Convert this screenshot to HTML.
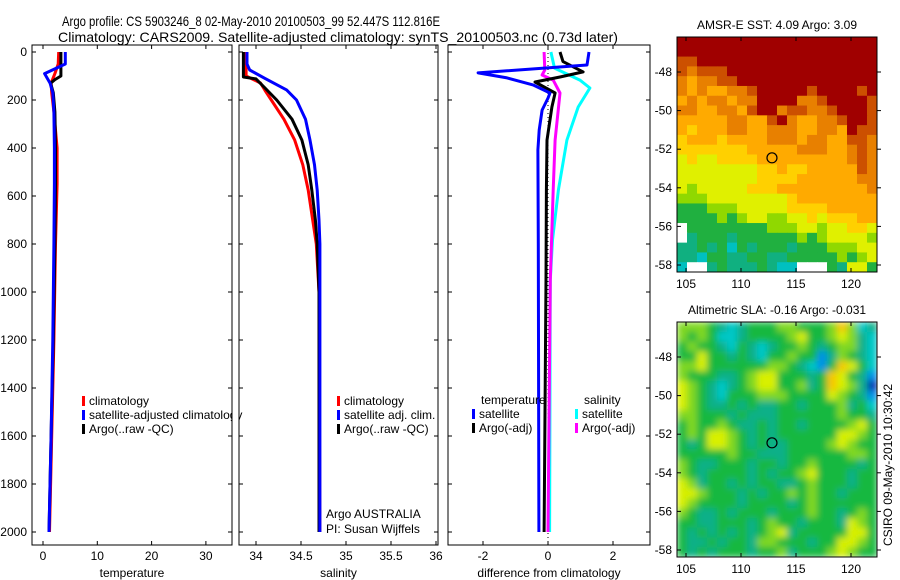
<!DOCTYPE html>
<html><head><meta charset="utf-8"><style>
body{margin:0;background:#fff;}
svg{display:block;font-family:"Liberation Sans",sans-serif;}
</style></head><body>
<svg id="fig" width="900" height="580" viewBox="0 0 900 580">
<defs><filter id="blur" x="0" y="0" width="1" height="1"><feGaussianBlur stdDeviation="3.5" edgeMode="duplicate"/></filter></defs>
</svg>
<script>
// ---------- data ----------
const depthTicks=[0,200,400,600,800,1000,1200,1400,1600,1800,2000];
const tempTicks=[0,10,20,30];
const salTicks=[34,34.5,35,35.5,36];
const diffTicks=[-2,0,2];
const lonTicks=[105,110,115,120];
const latTicks=[-48,-50,-52,-54,-56,-58];

const tClimD=[0,50,90,130,170,250,400,550,800,1200,1600,2000];
const tClimV=[2.9,2.8,2.2,1.5,1.6,2.0,2.6,2.6,2.3,2.0,1.6,1.2];
const tArgoD=[0,50,100,115,130,170,250,400,550,800,1200,1600,2000];
const tArgoV=[3.3,3.3,3.3,2.2,1.4,1.9,2.2,2.3,2.3,2.2,1.9,1.5,1.1];
const tSatD=[0,50,90,130,170,250,400,550,800,1200,1600,2000];
const tSatV=[4.1,4.1,0.3,1.3,1.8,2.0,2.1,2.1,2.0,1.8,1.5,1.1];

const sClimD=[0,100,129,160,200,280,367,470,575,700,800,1000,2000];
const sClimV=[33.89,33.89,34.05,34.10,34.17,34.31,34.43,34.52,34.58,34.63,34.67,34.70,34.71];
const sArgoD=[0,104,112,150,200,280,367,470,575,700,800,1000,2000];
const sArgoV=[33.86,33.86,34.0,34.1,34.23,34.40,34.51,34.58,34.62,34.66,34.68,34.70,34.70];
const sSatD=[0,50,75,110,158,200,280,367,470,575,700,800,2000];
const sSatV=[33.9,33.9,33.93,34.1,34.34,34.45,34.55,34.6,34.65,34.68,34.70,34.71,34.71];

const dSatTD=[0,54,87,108,137,171,192,242,325,408,800,2000];
const dSatTV=[1.26,1.2,-2.15,-1.26,-0.46,0.06,0.0,-0.18,-0.27,-0.31,-0.3,-0.28];
const dSatSD=[0,67,117,150,229,367,575,783,950,2000];
const dSatSV=[0.09,0.2,0.98,1.29,0.93,0.58,0.32,0.14,0.07,0.05];
const dArgoTD=[0,40,83,104,125,171,229,367,575,950,2000];
const dArgoTV=[0.37,0.46,1.08,0.37,-0.4,0.22,0.12,-0.03,-0.05,-0.06,-0.12];
const dArgoSD=[0,75,96,117,171,367,575,950,2000];
const dArgoSV=[-0.12,-0.1,-0.18,0.16,0.37,0.22,0.16,0.07,0.0];

const sstRows=[
"jjjjjjjjjjjjjjjjjjjj","jjjjjjjjjjjjjjjjjjjj","iijjjjjjjjjjjjjjjjjj","ihiiijjjjjjjjjjjjjjj",
"hghhiijjjjjjjjjjjjjj","hghgghhijjjjjijjjjij","ghghhghhjjjjhhijjjji","hhgghhgijjhiihhijjji",
"ggggghhggijhgghhijji","gfggghhgghhhgghhgjii","fgggfgggghhhghhggiih","fffffffggggghhhgghih",
"efeeffffggggggggghih","eeeeeeeeffgffgggggih","eeeeeeeeffffgggggghh","edeeeeefffgggggggggh",
"dddeeeeeeeefgggggggg","cccdddeeeeeffffggggg","ccccdcdeeddeefefffgg","wccccccccdddeedeeffe",
"wbcccbccccccdcdeeeed","bbcbcacbcccbcccdddee","bbaccbbccbbcccccdcde","awwbcbbbcbaawwwcbeec"];
const slaRows=[
"lllgtctgggllggglolct","lglgcctgggglygglyltc","glggtcgtctgglgtglltc","ggyggtgtcgglggbtlgtc",
"llyggggggllgtcbgoygc","lgggttglyygggtgoygtb","ylgtctglyyggltgoylta","ylgtcggglllggggylgtb",
"ylgttgtgttggtgggltgc","llgggtgtttgggggglggt","glgglgttgtggtgggglyg","glgyylgtgtggggggyylg",
"gtgyylgtgttgggglylgg","ggggglggtttggggggllg","lgttgggtggtgglggggtg","lgtggggtgtgglygggtgg",
"yltggtgtggttglgggtgg","yylgggtgtgglglggtggg","ylggggtggggtglgggggg","lgttgtgggtggglggtglg",
"ggttgggtglggtgggtylg","gtgtgtgtglytgggggyyg","gttgtggtllgggtggyylg","gtgtgggtggltggglylgg"];
const argoLon=112.816, argoLat=-52.447;

// ---------- helpers ----------
const NS="http://www.w3.org/2000/svg";
const svg=document.getElementById('fig');
function mk(tag,attrs,parent){const e=document.createElementNS(NS,tag);for(const k in attrs)e.setAttribute(k,attrs[k]);(parent||svg).appendChild(e);return e;}
function txt(x,y,s,anchor,size){const t=mk('text',{x:x,y:y,'font-size':size||12,'text-anchor':anchor||'start',fill:'#000'});t.textContent=s;return t;}
const yD=d=>52+d*0.24;
const xT=v=>43+v*5.43;
const xS=v=>256+(v-34)*90;
const xDf=v=>548+v*32.5;

// titles
let t=txt(62,26,'Argo profile: CS 5903246_8 02-May-2010 20100503_99 52.447S 112.816E','start',14);
t.setAttribute('textLength','378');
t.setAttribute('lengthAdjust','spacingAndGlyphs');


t=txt(58,42,'Climatology: CARS2009. Satellite-adjusted climatology: synTS_20100503.nc (0.73d later)','start',14);
t.setAttribute('textLength','560');
t.setAttribute('lengthAdjust','spacingAndGlyphs');



function panel(name,x0,x1,xf,xticks,xlabel,yLabels){
  const g=mk('g',{});
  
  
  const y0=45,y1=545;
  mk('rect',{x:x0,y:y0,width:x1-x0,height:y1-y0,fill:'none',stroke:'#000','stroke-width':1},g);
  depthTicks.forEach(d=>{
    mk('line',{x1:x0,x2:x0+4,y1:yD(d),y2:yD(d),stroke:'#000'},g);
    mk('line',{x1:x1-4,x2:x1,y1:yD(d),y2:yD(d),stroke:'#000'},g);
    if(yLabels){const l=txt(x0-5,yD(d)+4,String(d),'end');g.appendChild(l);
      
      }
  });
  xticks.forEach(v=>{
    mk('line',{x1:xf(v),x2:xf(v),y1:y0,y2:y0+4,stroke:'#000'},g);
    mk('line',{x1:xf(v),x2:xf(v),y1:y1-4,y2:y1,stroke:'#000'},g);
    const l=txt(xf(v),560,String(v),'middle');g.appendChild(l);
    
    
  });
  const xl=txt((x0+x1)/2,577,xlabel,'middle');g.appendChild(xl);
  
  
  const cp=mk('clipPath',{id:'cp'+name},g);
  mk('rect',{x:x0,y:y0,width:x1-x0,height:y1-y0},cp);
  const inner=mk('g',{'clip-path':'url(#cp'+name+')'},g);
  return inner;
}
function line(g,D,V,xf,color,name){
  const p=D.map((d,i)=>xf(V[i]).toFixed(1)+','+yD(d).toFixed(1)).join(' ');
  const pl=mk('polyline',{points:p,fill:'none',stroke:color,'stroke-width':3,'stroke-linejoin':'round'},g);
  
  
}
function legend(x,y,color,label,name){
  const g=mk('g',{});
  
  
  mk('rect',{x:x,y:y-9,width:3,height:10,fill:color},g);
  const l=txt(x+7,y,label);g.appendChild(l);
}

const p1=panel('temperature-panel',32,232,xT,tempTicks,'temperature',true);
line(p1,tClimD,tClimV,xT,'#f00','temp-climatology-line');
line(p1,tArgoD,tArgoV,xT,'#000','temp-argo-line');
line(p1,tSatD,tSatV,xT,'#00f','temp-satellite-line');
legend(82,405,'#f00','climatology','legend-climatology');
legend(82,419,'#00f','satellite-adjusted climatology','legend-satellite');
legend(82,433,'#000','Argo(..raw -QC)','legend-argo');
mk('rect',{x:232.5,y:405,width:6,height:20,fill:'#fff'});

const p2=panel('salinity-panel',239,438,xS,salTicks,'salinity',false);
line(p2,sClimD,sClimV,xS,'#f00','sal-climatology-line');
line(p2,sArgoD,sArgoV,xS,'#000','sal-argo-line');
line(p2,sSatD,sSatV,xS,'#00f','sal-satellite-line');
legend(337,405,'#f00','climatology','legend-sal-climatology');
legend(337,419,'#00f','satellite adj. clim.','legend-sal-satellite');
legend(337,433,'#000','Argo(..raw -QC)','legend-sal-argo');
t=txt(326,518,'Argo AUSTRALIA');


t=txt(326,533,'PI: Susan Wijffels');



const p3=panel('difference-panel',448,650,xDf,diffTicks,'difference from climatology',false);
mk('line',{x1:xDf(0),x2:xDf(0),y1:45,y2:545,stroke:'#000','stroke-dasharray':'1,3'},p3);
line(p3,dSatSD,dSatSV,xDf,'#0ff','diff-sat-salinity-line');
line(p3,dArgoSD,dArgoSV,xDf,'#f0f','diff-argo-salinity-line');
line(p3,dArgoTD,dArgoTV,xDf,'#000','diff-argo-temp-line');
line(p3,dSatTD,dSatTV,xDf,'#00f','diff-sat-temp-line');
t=txt(481,404,'temperature');


t=txt(584,404,'salinity');


legend(472,418,'#00f','satellite','legend-diff-sat-temp');
legend(472,432,'#000','Argo(-adj)','legend-diff-argo-temp');
legend(575,418,'#0ff','satellite','legend-diff-sat-sal');
legend(575,432,'#f0f','Argo(-adj)','legend-diff-argo-sal');

// ---------- maps ----------
const sstPal={j:'#a00000',i:'#cc5000',h:'#e88000',g:'#ffaa00',f:'#ffd000',e:'#e0f000',d:'#90d800',c:'#20b040',b:'#10b080',a:'#00c0c0',w:'#ffffff'};
const slaPal={a:'#0020b0',b:'#0090e8',c:'#00c8c8',t:'#10b088',g:'#18b840',l:'#80d820',y:'#d8f000',o:'#f8c800'};
function map(name,y0,rows,pal,title,smooth){
  const x0=677,x1=877,y1=y0+235;
  const g=mk('g',{});
  
  
  const lonX=v=>686+(v-105)*11;
  const latY=v=>y0+35+(-48-v)*19.3;
  const nr=rows.length,nc=rows[0].length;
  const cw=(x1-x0)/nc,ch=(y1-y0)/nr;
  const cells=mk('g',smooth?{filter:'url(#blur)'}:{},g);
  rows.forEach((r,i)=>{for(let j=0;j<nc;j++){
    const c=mk('rect',{x:(x0+j*cw).toFixed(2),y:(y0+i*ch).toFixed(2),width:(cw+0.5).toFixed(2),height:(ch+0.5).toFixed(2),fill:pal[r[j]]},cells);
    
    
  }});
  mk('rect',{x:x0,y:y0,width:x1-x0,height:y1-y0,fill:'none',stroke:'#000'},g);
  lonTicks.forEach(v=>{
    mk('line',{x1:lonX(v),x2:lonX(v),y1:y1,y2:y1-4,stroke:'#000'},g);
    mk('line',{x1:lonX(v),x2:lonX(v),y1:y0,y2:y0+4,stroke:'#000'},g);
    const l=txt(lonX(v),y1+16,String(v),'middle');g.appendChild(l);
  });
  latTicks.forEach(v=>{
    mk('line',{x1:x0,x2:x0+4,y1:latY(v),y2:latY(v),stroke:'#000'},g);
    mk('line',{x1:x1,x2:x1+4,y1:latY(v),y2:latY(v),stroke:'#000'},g);
    const l=txt(x0-5,latY(v)+4,String(v),'end');g.appendChild(l);
  });
  const tl=txt((x0+x1)/2,y0-8,title,'middle');g.appendChild(tl);
  const c=mk('circle',{cx:lonX(argoLon),cy:latY(argoLat),r:5,fill:'none',stroke:'#000','stroke-width':1.2},g);
  
  
}
map('sst-map',37,sstRows,sstPal,'AMSR-E SST: 4.09 Argo: 3.09',false);
map('sla-map',322,slaRows,slaPal,'Altimetric SLA: -0.16 Argo: -0.031',true);
t=mk('text',{x:0,y:0,'font-size':12,'text-anchor':'middle',transform:'translate(892,465) rotate(-90)'});
t.textContent='CSIRO 09-May-2010 10:30:42';


</script>
</body></html>
